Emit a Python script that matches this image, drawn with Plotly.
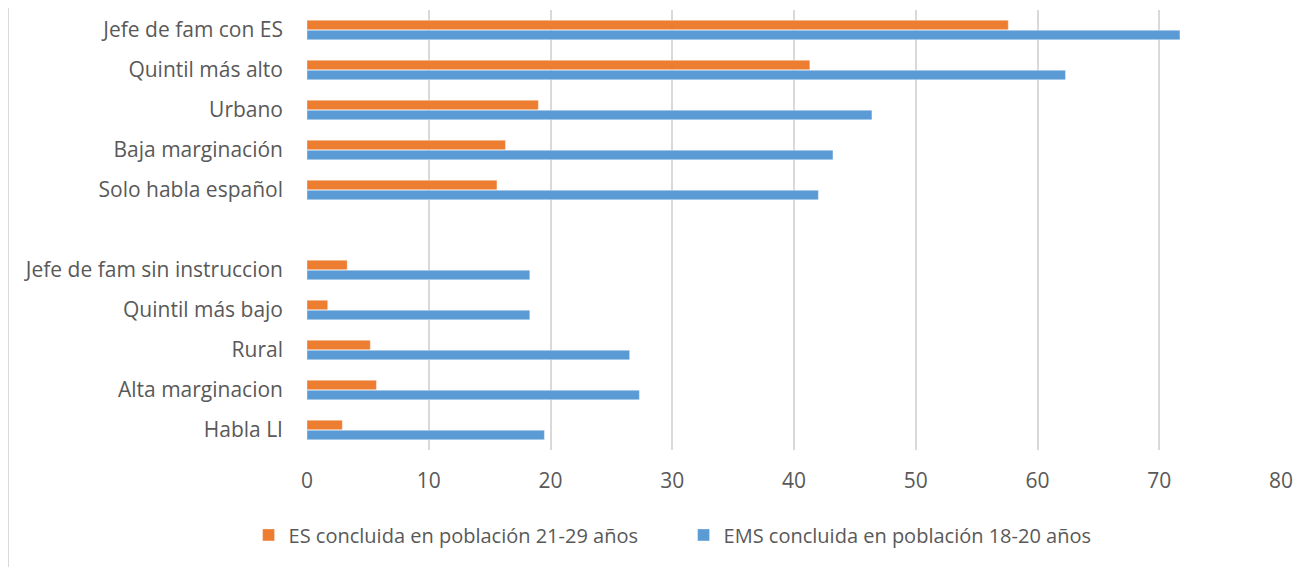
import plotly.graph_objects as go

categories = [
    "Jefe de fam con ES", "Quintil más alto", "Urbano", "Baja marginación",
    "Solo habla español", " ", "Jefe de fam sin instruccion", "Quintil más bajo",
    "Rural", "Alta marginacion", "Habla LI",
]
es_21_29 = [57.6, 41.3, 19.0, 16.3, 15.6, None, 3.3, 1.7, 5.2, 5.7, 2.9]
ems_18_20 = [71.7, 62.3, 46.4, 43.2, 42.0, None, 18.3, 18.3, 26.5, 27.3, 19.5]
x_ticks = [0, 10, 20, 30, 40, 50, 60, 70, 80]

series_names = ["ES concluida en población 21-29 años", "EMS concluida en población 18-20 años"]
colors = ["#ED7D31", "#5B9BD5"]

font_family = "Open Sans, Segoe UI, Calibri, sans-serif"
text_color = "#595959"

W, H = 1304, 559
L, R, T, B = 299, 31, 2, 117
PW, PH = W - L - R, H - T - B

fig = go.Figure()
for name, vals, col in zip(series_names, [es_21_29, ems_18_20], colors):
    fig.add_trace(go.Bar(
        y=categories, x=vals, name=name, orientation="h",
        marker=dict(color=col, line=dict(width=0.6, color="rgba(255,255,255,0.6)")),
    ))

fig.update_layout(
    width=W, height=H,
    margin=dict(l=L, r=R, t=T, b=B),
    paper_bgcolor="white", plot_bgcolor="white",
    barmode="group", bargap=0.5, bargroupgap=0.05,
    font=dict(family=font_family, size=21, color=text_color),
    showlegend=True,
    legend=dict(orientation="h", x=-0.06, xanchor="left", y=-0.193, yanchor="middle",
                font=dict(size=20, color=text_color), traceorder="normal",
                itemwidth=30, entrywidth=390),
    xaxis=dict(range=[0, 80], tickvals=x_ticks, showgrid=True, gridcolor="#D9D9D9",
               gridwidth=1.5, zeroline=False, showline=False, ticks="",
               ticklabelstandoff=16, tickfont=dict(size=21, color=text_color)),
    yaxis=dict(type="category", categoryorder="array", categoryarray=categories,
               range=[10.5, -0.5], showgrid=False, zeroline=False, showline=False,
               ticks="", ticklabelstandoff=23, tickfont=dict(size=21, color=text_color)),
)

fig.add_shape(type="line", xref="paper", yref="paper", x0=-L / PW, x1=-L / PW,
              y0=-B / PH, y1=1 + T / PH, line=dict(color="#D9D9D9", width=2))

fig.write_html("out.html")
